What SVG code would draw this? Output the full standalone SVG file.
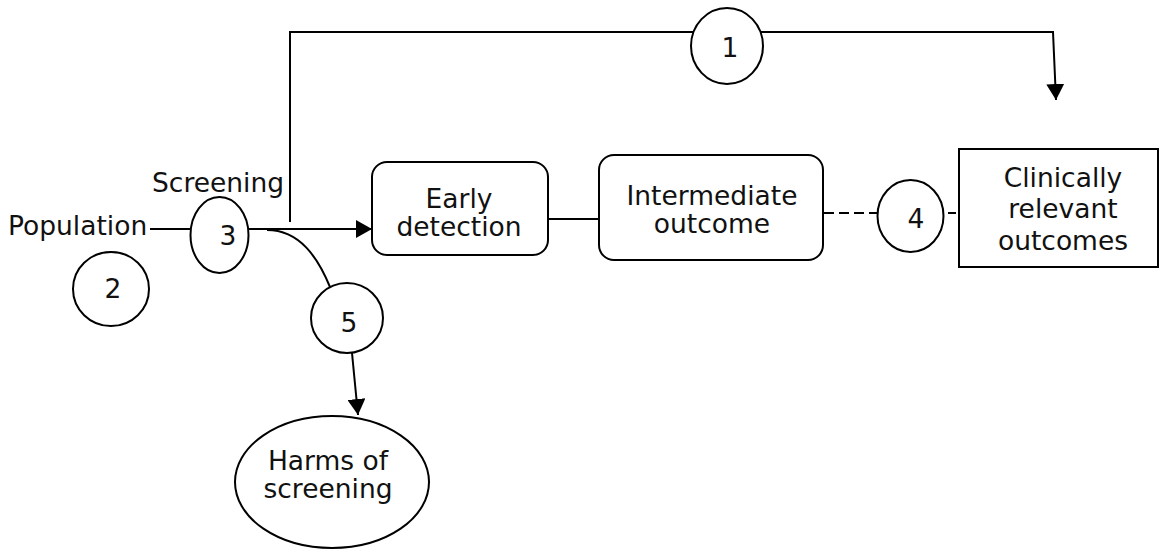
<svg xmlns="http://www.w3.org/2000/svg" width="1159" height="550" viewBox="0 0 1159 550">
<style>
.s{fill:#fff;stroke:#000;stroke-width:2}
.c{fill:none;stroke:#000;stroke-width:2}
.t{font-family:"DejaVu Sans",Verdana,sans-serif;font-size:26.5px;fill:#111}
.m{text-anchor:middle}
</style>
<defs>
<marker id="ah" markerUnits="userSpaceOnUse" markerWidth="16" markerHeight="18" viewBox="0 0 16 18" refX="16" refY="9" orient="auto">
<path d="M0,0 L16,9 L0,18 Z" fill="#000"/>
</marker>
</defs>
<rect width="1159" height="550" fill="#fff"/>
<g id="connectors">
<path class="c" d="M290,222 L290,32 L1053,32 L1056,100" marker-end="url(#ah)"/>
<path class="c" d="M150,229 L191,229"/>
<path class="c" d="M248,229 L372,229" marker-end="url(#ah)"/>
<path class="c" d="M267,230 C300,230 318,258 330,287"/>
<path class="c" d="M352,353 L358,415" marker-end="url(#ah)"/>
<path class="c" d="M548,219 L599,219"/>
<path class="c" d="M824,213 L878,213" stroke-dasharray="10,5"/>
<path class="c" d="M944,213 L959,213" stroke-dasharray="8,8" stroke-dashoffset="-4"/>
</g>
<g id="population"><text class="t" x="8" y="235">Population</text></g>
<g id="screening"><text class="t" x="152" y="192">Screening</text></g>
<g id="n1"><ellipse class="s" cx="727" cy="46" rx="36" ry="38"/><text class="t m" x="730" y="57">1</text></g>
<g id="n2"><ellipse class="s" cx="111" cy="289" rx="38" ry="37"/><text class="t m" x="113" y="298">2</text></g>
<g id="n3"><ellipse class="s" cx="219.5" cy="235" rx="29" ry="38"/><text class="t m" x="228" y="245">3</text></g>
<g id="n4"><ellipse class="s" cx="910.5" cy="216" rx="33" ry="36"/><text class="t m" x="916" y="228">4</text></g>
<g id="n5"><ellipse class="s" cx="347" cy="318" rx="36" ry="35"/><text class="t m" x="349" y="332">5</text></g>
<g id="early"><rect class="s" x="372" y="162" width="176" height="93" rx="15"/><text class="t m" x="459" y="208">Early</text><text class="t m" x="459" y="236">detection</text></g>
<g id="intermediate"><rect class="s" x="599" y="155" width="224" height="105" rx="15"/><text class="t m" x="712" y="205">Intermediate</text><text class="t m" x="712" y="233">outcome</text></g>
<g id="clinical"><rect class="s" x="959" y="149" width="199" height="118"/><text class="t m" x="1063" y="187">Clinically</text><text class="t m" x="1063" y="218">relevant</text><text class="t m" x="1063" y="250">outcomes</text></g>
<g id="harms"><ellipse class="s" cx="332" cy="482" rx="97" ry="66"/><text class="t m" x="328" y="470">Harms of</text><text class="t m" x="328" y="498">screening</text></g>
</svg>
